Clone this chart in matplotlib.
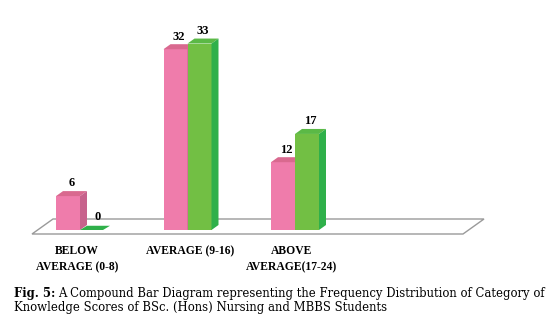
import matplotlib
matplotlib.use("Agg")
import matplotlib.pyplot as plt
from matplotlib.patches import Polygon

categories = ["BELOW\nAVERAGE (0-8)", "AVERAGE (9-16)", "ABOVE\nAVERAGE(17-24)"]
nursing = [6, 32, 12]
mbbs = [0, 33, 17]

W, H, DPI = 553, 331, 100
fig = plt.figure(figsize=(W / DPI, H / DPI), dpi=DPI)
ax = fig.add_axes([0, 0, 1, 1])
ax.set_axis_off()

px_per_unit = 5.65
y0_px = H - 230  # pixels from bottom where value 0 sits
ax.set_ylim(-y0_px / px_per_unit, (H - y0_px) / px_per_unit)
group_px = 107.5
first_px = 80
ax.set_xlim(-first_px / group_px, (W - first_px) / group_px)

bw = 24 / group_px
dx = 7 / group_px
dy = 5 / px_per_unit

# floor
fx0, fx1 = -48 / group_px, 383 / group_px
fyf, fyb = -4 / px_per_unit, 11 / px_per_unit
fdx = 21 / group_px
floor = Polygon([(fx0, fyf), (fx1, fyf), (fx1 + fdx, fyb), (fx0 + fdx, fyb)],
                closed=True, facecolor="white", edgecolor="#9a9a9a", lw=1.0, zorder=1)
ax.add_patch(floor)

pink = dict(front="#EF7CAB", top="#D9698F", side="#C7628C")
green = dict(front="#72BF44", top="#5BB946", side="#2FB04A")


def bar3d(x, v, c, z):
    ax.add_patch(Polygon([(x, 0), (x + bw, 0), (x + bw, v), (x, v)], closed=True,
                         facecolor=c["front"], edgecolor="none", zorder=z))
    ax.add_patch(Polygon([(x, v), (x + bw, v), (x + bw + dx, v + dy), (x + dx, v + dy)],
                         closed=True, facecolor=c["top"], edgecolor="none", zorder=z))
    ax.add_patch(Polygon([(x + bw, 0), (x + bw + dx, dy), (x + bw + dx, v + dy), (x + bw, v)],
                         closed=True, facecolor=c["side"], edgecolor="none", zorder=z))


for i, (a, b) in enumerate(zip(nursing, mbbs)):
    bar3d(i - bw, a, pink, 3)
    if b > 0:
        bar3d(i, b, green, 4)
    else:
        zx = 30 / group_px
        ax.add_patch(Polygon([(i, 0), (i + zx - dx, 0), (i + zx, 0.75), (i + dx, 0.75)],
                             closed=True, facecolor=green["side"], edgecolor="none", zorder=4))
    ax.text(i - bw / 2 + dx / 2, a + dy + 0.3, str(a), ha="center", va="bottom",
            fontsize=9, fontweight="bold", family="Liberation Serif", zorder=5)
    ax.text(i + bw / 2 + dx / 2 + (0.02 if b == 0 else 0), b + dy + 0.3, str(b), ha="center",
            va="bottom", fontsize=9, fontweight="bold", family="Liberation Serif", zorder=5)
    ax.text(i - 0.03 if i != 1 else i + 0.02, -2.7, categories[i], ha="center", va="top",
            fontsize=8.4, fontweight="bold", family="Liberation Serif", linespacing=1.45)

# caption
fig.canvas.draw()
r = fig.canvas.get_renderer()
t1 = fig.text(14 / W, 1 - 293 / H, "Fig. 5:", fontsize=8.4, fontweight="bold",
              family="DejaVu Serif", va="center")
bb = t1.get_window_extent(renderer=r)
fig.text((bb.x1 + 3) / W, 1 - 293 / H,
         "A Compound Bar Diagram representing the Frequency Distribution of Category of",
         fontsize=8.4, family="DejaVu Serif", va="center")
fig.text(14 / W, 1 - 308 / H, "Knowledge Scores of BSc. (Hons) Nursing and MBBS Students",
         fontsize=8.4, family="DejaVu Serif", va="center")

fig.savefig("out.png", dpi=DPI)
